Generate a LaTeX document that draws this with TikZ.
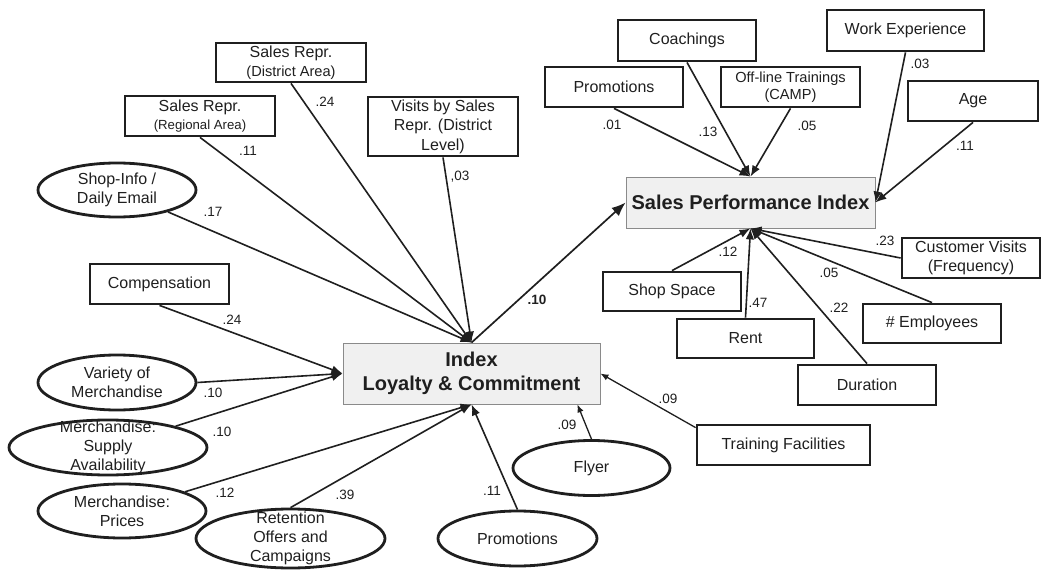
\documentclass[tikz,border=0pt]{standalone}
\usepackage{fontspec}
\setmainfont{Liberation Sans}
\usetikzlibrary{shapes.geometric,arrows.meta}
\definecolor{ink}{HTML}{1F1F1F}
\definecolor{panel}{HTML}{F0F0F0}
\definecolor{rim}{HTML}{8A8A8A}
\begin{document}
\begin{tikzpicture}[x=1pt,y=-1pt,
  every node/.style={text=ink},
  every label/.style={align=center, text=ink, font=\fontsize{16}{19}\selectfont},
  varbox/.style={rectangle, draw=ink, line width=2.8pt, inner sep=0pt, align=center,
                 font=\fontsize{16}{18.5}\selectfont},
  oval/.style={ellipse, draw=ink, line width=2.8pt, inner sep=0pt},
  core/.style={rectangle, draw=rim, fill=panel, line width=0.8pt, inner sep=0pt, align=center,
               font=\bfseries\fontsize{20}{24}\selectfont},
  link/.style={draw=ink, line width=1.6pt, -{Latex[length=11pt,width=8.5pt]}},
  thinlink/.style={draw=ink, line width=1.3pt, -{Latex[length=8pt,width=6.5pt]}},
  biglink/.style={draw=ink, line width=1.7pt, -{Latex[length=14pt,width=11pt]}},
  wt/.style={inner sep=0pt, font=\fontsize{13.5}{15}\selectfont},
  small/.style={font=\fontsize{14.6}{17}\selectfont},
]
\useasboundingbox (0,0) rectangle (1044,572);

% central constructs
\node[core, minimum width=257, minimum height=61] (idx) at (471.5,373.5) {Index\\Loyalty \& Commitment};
\node[core, minimum width=249, minimum height=51] (spi) at (750.5,202.5) {Sales Performance Index};

% drivers of loyalty & commitment
\node[varbox, minimum width=150, minimum height=39] (distr) at (291,62.5)
  {Sales Repr.\\{\fontsize{14.6}{17}\selectfont(District Area)}};
\node[varbox, minimum width=150, minimum height=40] (regio) at (200,116)
  {Sales Repr.\\{\fontsize{13.2}{15}\selectfont(Regional Area)}};
\node[varbox, minimum width=150, minimum height=59, font=\fontsize{16}{19.5}\selectfont] (visit) at (443,126.5)
  {Visits by Sales\\Repr. (District\\Level)};
\node[varbox, minimum width=139, minimum height=40] (comp) at (159.5,284) {Compensation};

\node[oval, minimum width=158, minimum height=54, label={center:{Shop-Info /\\Daily Email}}] (shopinfo) at (117,190) {};
\node[oval, minimum width=158, minimum height=55, label={center:{Variety of\\Merchandise}}] (variety) at (117,382.5) {};
\node[oval, minimum width=198, minimum height=55, label={center:{Merchandise:\\Supply\\Availability}}] (supply) at (108,447.5) {};
\node[oval, minimum width=168, minimum height=54, label={center:{Merchandise:\\Prices}}] (prices) at (122,511) {};
\node[oval, minimum width=189, minimum height=59, label={center:{Retention\\Offers and\\Campaigns}}] (retent) at (290.5,538.5) {};
\node[oval, minimum width=159, minimum height=55, label={center:{Promotions}}] (promoL) at (517.5,538.5) {};
\node[oval, minimum width=157, minimum height=55, label={center:{Flyer}}] (flyer) at (591.5,468) {};
\node[varbox, minimum width=173, minimum height=40] (train) at (783.5,445) {Training Facilities};

% drivers of sales performance
\node[varbox, minimum width=138, minimum height=40] (promoR) at (614,87) {Promotions};
\node[varbox, minimum width=138, minimum height=41] (coach) at (687,40.5) {Coachings};
\node[varbox, small, minimum width=139, minimum height=40] (offl) at (790.5,87) {Off-line Trainings\\(CAMP)};
\node[varbox, minimum width=157, minimum height=41] (work) at (905.5,30.5) {Work Experience};
\node[varbox, minimum width=130, minimum height=40] (age) at (973,101) {Age};
\node[varbox, minimum width=138, minimum height=40] (cust) at (971,258) {Customer Visits\\(Frequency)};
\node[varbox, minimum width=138, minimum height=39] (shopsp) at (672,291.5) {Shop Space};
\node[varbox, minimum width=137, minimum height=39] (rent) at (745.5,338.5) {Rent};
\node[varbox, minimum width=138, minimum height=39] (empl) at (932,323.5) {\# Employees};
\node[varbox, minimum width=138, minimum height=40] (dur) at (867,385) {Duration};

% paths into the loyalty index
\draw[link] (distr.south) -- (idx.north);
\draw[link] (regio.south) -- (idx.north);
\draw[link] (visit.south) -- (idx.north);
\draw[link] (shopinfo) -- (idx.north);
\draw[link] (comp.south) -- (idx.west);
\draw[link] (variety.east) -- (idx.west);
\draw[link] (supply) -- (idx.west);
\draw[link] (prices) -- (idx.south);
\draw[link] (retent.north) -- (idx.south);
\draw[link] (promoL.north) -- (idx.south);
\draw[thinlink] (flyer.north) -- ([xshift=-23pt]idx.south east);
\draw[thinlink] ([yshift=-4pt]train.north west) -- (idx.east);

% loyalty index to sales performance
\draw[biglink] (idx.north) -- (spi.west);

% paths into sales performance
\draw[link] (promoR.south) -- (spi.north);
\draw[link] (coach.south) -- (spi.north);
\draw[link] (offl.south) -- (spi.north);
\draw[link] (work.south) -- (spi.east);
\draw[link] (age.south) -- (spi.east);
\draw[link] (shopsp.north) -- (spi.south);
\draw[link] (rent.north) -- (spi.south);
\draw[link] (dur.north) -- (spi.south);
\draw[link] (empl.north) -- (spi.south);
\draw[link] (cust.west) -- (spi.south);

% path coefficients
\node[wt] (c1) at (325,102) {.24};
\node[wt] (c2) at (248,151) {.11};
\node[wt] (c3) at (460,177) {,03};
\node[wt] (c4) at (213,212) {.17};
\node[wt] (c5) at (232,320) {.24};
\node[wt] (c6) at (213,393) {.10};
\node[wt] (c7) at (222,432) {.10};
\node[wt] (c8) at (225,493) {.12};
\node[wt] (c9) at (345,495) {.39};
\node[wt] (c10) at (492,491) {.11};
\node[wt] (c11) at (567,425) {.09};
\node[wt] (c12) at (668,399) {.09};
\node[wt, font=\bfseries\fontsize{13.5}{15}\selectfont] (c13) at (537,300) {.10};
\node[wt] (c14) at (612,125) {.01};
\node[wt] (c15) at (708,132) {.13};
\node[wt] (c16) at (807,126) {.05};
\node[wt] (c17) at (920,64) {.03};
\node[wt] (c18) at (965,146) {.11};
\node[wt] (c19) at (728,252) {.12};
\node[wt] (c20) at (885,241) {.23};
\node[wt] (c21) at (829,273) {.05};
\node[wt] (c22) at (758,303) {.47};
\node[wt] (c23) at (839,308) {.22};
\end{tikzpicture}
\end{document}
